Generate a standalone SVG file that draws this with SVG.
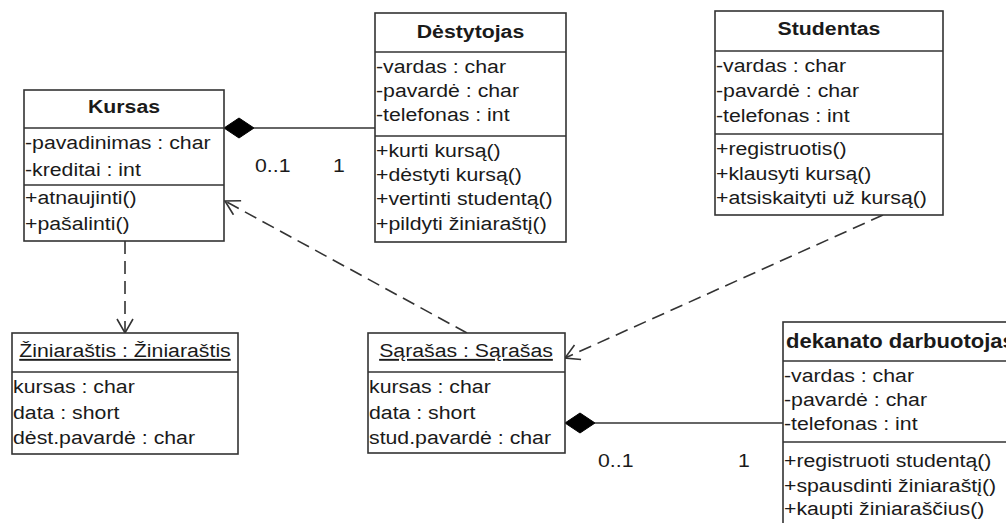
<svg xmlns="http://www.w3.org/2000/svg" width="1006" height="523" viewBox="0 0 1006 523">
<style>
.box{fill:#fff;stroke:#333;stroke-width:1.6}
.sep{stroke:#333;stroke-width:1.6}
text{font-family:"Liberation Sans",Arial,sans-serif;font-size:19px;fill:#1a1a1a}
.t{transform-box:fill-box;transform-origin:0 50%;transform:scaleX(1.12)}
.h{font-weight:bold;text-anchor:middle;transform-box:fill-box;transform-origin:50% 50%;transform:scaleX(1.12)}
.hl{font-weight:bold;font-size:19.5px;transform-box:fill-box;transform-origin:0 50%;transform:scaleX(1.13)}
.u{text-anchor:middle;text-decoration:underline;transform-box:fill-box;transform-origin:50% 50%;transform:scaleX(1.12)}
.dash{fill:none;stroke:#333;stroke-width:1.6;stroke-dasharray:13 7}
.solid{fill:none;stroke:#333;stroke-width:1.6}
.dia{fill:#000;stroke:#000;stroke-width:1}
</style>
<defs>
<marker id="open" markerUnits="userSpaceOnUse" markerWidth="18" markerHeight="18" viewBox="0 -9 18 18" refX="16" refY="0" orient="auto">
<path d="M2,-8 L16,0 L2,8" fill="none" stroke="#333" stroke-width="1.6"/>
</marker>
</defs>

<g id="connectors">
<line class="solid" x1="254" y1="128" x2="375" y2="128"/>
<polygon class="dia" points="224,128 239,118 254,128 239,138"/>
<line class="solid" x1="595" y1="423" x2="783" y2="423"/>
<polygon class="dia" points="565,423 580,413 595,423 580,433"/>
<line class="dash" x1="125" y1="241" x2="125" y2="333" marker-end="url(#open)"/>
<line class="dash" x1="467" y1="333" x2="225" y2="201" marker-end="url(#open)"/>
<line class="dash" x1="883" y1="215" x2="565" y2="358" marker-end="url(#open)"/>
<text class="t" x="255" y="172">0..1</text>
<text class="t" x="333" y="172">1</text>
<text class="t" x="598" y="467">0..1</text>
<text class="t" x="738" y="467">1</text>
</g>

<g id="kursas">
<rect class="box" x="24" y="90" width="200" height="151"/>
<line class="sep" x1="24" y1="128" x2="224" y2="128"/>
<line class="sep" x1="24" y1="185" x2="224" y2="185"/>
<text class="h" x="124" y="113">Kursas</text>
<text class="t" x="25" y="149">-pavadinimas : char</text>
<text class="t" x="25" y="176">-kreditai : int</text>
<text class="t" x="25" y="204">+atnaujinti()</text>
<text class="t" x="25" y="230">+pašalinti()</text>
</g>

<g id="destytojas">
<rect class="box" x="375" y="13" width="191" height="229"/>
<line class="sep" x1="375" y1="52" x2="566" y2="52"/>
<line class="sep" x1="375" y1="136" x2="566" y2="136"/>
<text class="h" x="470.5" y="38">Dėstytojas</text>
<text class="t" x="376" y="73">-vardas : char</text>
<text class="t" x="376" y="97">-pavardė : char</text>
<text class="t" x="376" y="121">-telefonas : int</text>
<text class="t" x="376" y="157">+kurti kursą()</text>
<text class="t" x="376" y="181">+dėstyti kursą()</text>
<text class="t" x="376" y="205">+vertinti studentą()</text>
<text class="t" x="376" y="230">+pildyti žiniaraštį()</text>
</g>

<g id="studentas">
<rect class="box" x="715" y="11" width="228" height="204"/>
<line class="sep" x1="715" y1="51" x2="943" y2="51"/>
<line class="sep" x1="715" y1="134" x2="943" y2="134"/>
<text class="h" x="829" y="35">Studentas</text>
<text class="t" x="716" y="72">-vardas : char</text>
<text class="t" x="716" y="97">-pavardė : char</text>
<text class="t" x="716" y="122">-telefonas : int</text>
<text class="t" x="716" y="155">+registruotis()</text>
<text class="t" x="716" y="180">+klausyti kursą()</text>
<text class="t" x="716" y="204">+atsiskaityti už kursą()</text>
</g>

<g id="ziniarastis">
<rect class="box" x="12" y="333" width="226" height="121"/>
<line class="sep" x1="12" y1="372" x2="238" y2="372"/>
<text class="u" x="125" y="357">Žiniaraštis : Žiniaraštis</text>
<text class="t" x="13" y="393">kursas : char</text>
<text class="t" x="13" y="419">data : short</text>
<text class="t" x="13" y="444">dėst.pavardė : char</text>
</g>

<g id="sarasas">
<rect class="box" x="368" y="333" width="197" height="120"/>
<line class="sep" x1="368" y1="372" x2="565" y2="372"/>
<text class="u" x="466" y="357">Sąrašas : Sąrašas</text>
<text class="t" x="369" y="393">kursas : char</text>
<text class="t" x="369" y="419">data : short</text>
<text class="t" x="369" y="444">stud.pavardė : char</text>
</g>

<g id="dekanato">
<rect class="box" x="783" y="322" width="235" height="215"/>
<line class="sep" x1="783" y1="361" x2="1018" y2="361"/>
<line class="sep" x1="783" y1="442" x2="1018" y2="442"/>
<text class="hl" x="786" y="348">dekanato darbuotojas</text>
<text class="t" x="784" y="382">-vardas : char</text>
<text class="t" x="784" y="406">-pavardė : char</text>
<text class="t" x="784" y="430">-telefonas : int</text>
<text class="t" x="784" y="467">+registruoti studentą()</text>
<text class="t" x="784" y="492">+spausdinti žiniaraštį()</text>
<text class="t" x="784" y="515">+kaupti žiniaraščius()</text>
</g>
</svg>
